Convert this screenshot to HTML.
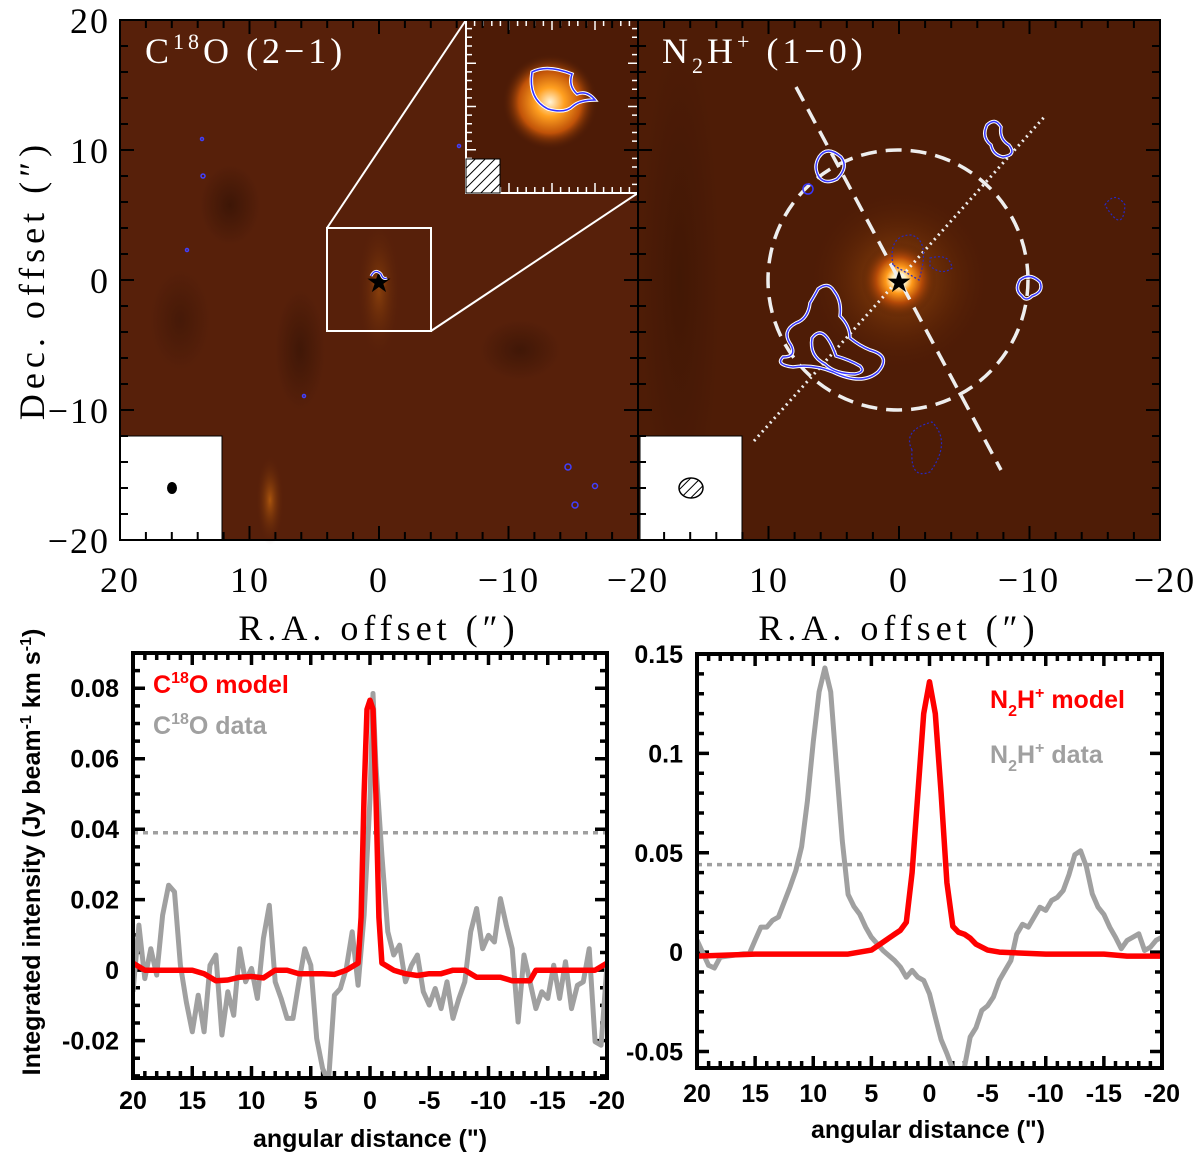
<!DOCTYPE html>
<html><head><meta charset="utf-8"><style>
html,body{margin:0;padding:0;background:#fff;}
svg{display:block;}
.ser{font-family:"Liberation Serif",serif;font-size:36px;fill:#000;letter-spacing:2px;}
.bld{font-family:"Liberation Sans",sans-serif;font-weight:bold;font-size:25px;fill:#000;}
</style></head><body>
<svg id="fig" width="1200" height="1157" viewBox="0 0 1200 1157" xmlns="http://www.w3.org/2000/svg">
<defs>
<radialGradient id="glowR" cx="0.5" cy="0.5" r="0.5">
<stop offset="0" stop-color="#ffffff"/><stop offset="0.18" stop-color="#fff0c0"/><stop offset="0.35" stop-color="#ff9a1a"/><stop offset="0.6" stop-color="#b54a08"/><stop offset="1" stop-color="#4a1a05" stop-opacity="0"/>
</radialGradient>
<radialGradient id="glowI" cx="0.5" cy="0.5" r="0.5">
<stop offset="0" stop-color="#fff4d8"/><stop offset="0.3" stop-color="#ffa020"/><stop offset="0.65" stop-color="#c05208"/><stop offset="1" stop-color="#4a1a05" stop-opacity="0"/>
</radialGradient>
<radialGradient id="glowS" cx="0.5" cy="0.5" r="0.5">
<stop offset="0" stop-color="#ff8a10"/><stop offset="1" stop-color="#5a1f05" stop-opacity="0"/>
</radialGradient>
<radialGradient id="dark" cx="0.5" cy="0.5" r="0.5">
<stop offset="0" stop-color="#1e0a02"/><stop offset="1" stop-color="#1e0a02" stop-opacity="0"/>
</radialGradient>
<pattern id="hatch" width="7" height="7" patternUnits="userSpaceOnUse" patternTransform="rotate(45)"><rect width="7" height="7" fill="#fff"/><line x1="0" y1="0" x2="0" y2="7" stroke="#000" stroke-width="2"/></pattern>
<clipPath id="clipL"><rect x="133" y="653" width="474" height="425"/></clipPath>
<clipPath id="clipR"><rect x="697" y="654" width="465" height="414"/></clipPath>
</defs>

<!-- TOP LEFT MAP -->
<g>
<rect x="120" y="20" width="518" height="520" fill="#57200a"/>
<ellipse cx="230" cy="205" rx="30" ry="40" fill="url(#dark)" opacity="0.45"/>
<ellipse cx="300" cy="350" rx="25" ry="60" fill="url(#dark)" opacity="0.4"/>
<ellipse cx="520" cy="350" rx="40" ry="30" fill="url(#dark)" opacity="0.4"/>
<ellipse cx="180" cy="320" rx="30" ry="50" fill="url(#dark)" opacity="0.3"/>
<ellipse cx="270" cy="500" rx="14" ry="45" fill="url(#glowS)" opacity="0.5"/>
<ellipse cx="379" cy="290" rx="22" ry="70" fill="url(#glowS)" opacity="0.3"/>
<circle cx="379" cy="282" r="10" fill="url(#glowS)"/>
<text x="145" y="63" class="ser" style="fill:#fff;letter-spacing:4px">C<tspan dy="-14" font-size="22">18</tspan><tspan dy="14">O (2−1)</tspan></text>
<text x="379" y="292" font-size="30" text-anchor="middle" fill="#000">★</text>
<path d="M371,276 q4,-8 10,-2 q2,6 6,4" stroke="#fff" stroke-width="3" fill="none"/>
<path d="M371,276 q4,-8 10,-2 q2,6 6,4" stroke="#3030ff" stroke-width="1.2" fill="none"/>
<g fill="none" stroke="#4040ff" stroke-width="1.5">
<circle cx="203" cy="176" r="2"/><circle cx="202" cy="139" r="1.5"/><circle cx="187" cy="250" r="1.5"/><circle cx="304" cy="396" r="1.5"/><circle cx="568" cy="467" r="3"/><circle cx="595" cy="486" r="2.5"/><circle cx="575" cy="505" r="3"/><circle cx="459" cy="146" r="1.5"/>
</g>
<rect x="327" y="228" width="104" height="103" fill="none" stroke="#fff" stroke-width="2"/>
<line x1="327" y1="228" x2="466" y2="20" stroke="#fff" stroke-width="2"/>
<line x1="431" y1="331" x2="638" y2="193" stroke="#fff" stroke-width="2"/>
<g>
<rect x="466" y="20" width="172" height="173" fill="#4d1b06" stroke="#fff" stroke-width="2"/>
<circle cx="550" cy="102" r="48" fill="url(#glowI)"/>
<path d="M532,72 q15,-8 40,2 q-4,12 5,20 q10,-4 18,6 q-15,0 -22,6 q-8,8 -25,3 q-20,-10 -16,-37z" fill="none" stroke="#fff" stroke-width="3.5"/>
<path d="M532,72 q15,-8 40,2 q-4,12 5,20 q10,-4 18,6 q-15,0 -22,6 q-8,8 -25,3 q-20,-10 -16,-37z" fill="none" stroke="#3030ff" stroke-width="1.5"/>
<g id="insetTicks"></g>
<rect x="466" y="159" width="34" height="34" fill="url(#hatch)" stroke="#000" stroke-width="1"/>
</g>
<rect x="120" y="436" width="102" height="104" fill="#fff" stroke="#000" stroke-width="1"/>
<ellipse cx="172" cy="488" rx="5" ry="6" fill="#000"/>
<rect x="120" y="20" width="518" height="520" fill="none" stroke="#000" stroke-width="2"/>
</g>

<!-- TOP RIGHT MAP -->
<g>
<rect x="638" y="20" width="522" height="520" fill="#4e1c06"/>
<ellipse cx="680" cy="280" rx="40" ry="250" fill="url(#dark)" opacity="0.25"/>
<circle cx="899" cy="280" r="90" fill="url(#glowS)" opacity="0.45"/>
<circle cx="899" cy="280" r="38" fill="url(#glowR)"/>
<text x="662" y="63" class="ser" style="fill:#fff;letter-spacing:4px">N<tspan dy="10" font-size="22">2</tspan><tspan dy="-10">H</tspan><tspan dy="-14" font-size="22">+</tspan><tspan dy="14"> (1−0)</tspan></text>
<circle cx="898" cy="280" r="130" fill="none" stroke="#eee" stroke-width="3.5" stroke-dasharray="16,9"/>
<line x1="796" y1="87" x2="1001" y2="470" stroke="#eee" stroke-width="3.5" stroke-dasharray="16,9"/>
<line x1="754" y1="441" x2="1046" y2="115" stroke="#eee" stroke-width="3" stroke-dasharray="2,4"/>
<g fill="none" stroke="#fff" stroke-width="3.5">
<path d="M819,157 q8,-12 22,0 q8,10 -4,22 q-12,6 -18,-2 q-6,-10 0,-20z"/>
<path d="M987,125 q8,-8 14,2 q-2,12 8,18 q8,10 -6,12 q-10,-2 -12,-12 q-10,-8 -4,-20z"/>
<path d="M1020,280 q10,-8 20,2 q4,10 -8,14 q-6,6 -10,0 q-8,-6 -2,-16z"/>
<path d="M818,289 q10,-8 16,2 q8,10 6,25 q10,10 10,22 q10,8 20,12 q22,6 8,22 q-16,14 -45,0 q-20,-8 -40,-5 q-18,-2 -10,-10 q14,0 8,-12 q-10,-14 5,-22 q12,-4 14,-20 q6,-10 8,-14z"/>
<path d="M812,338 q12,-16 24,18 q14,4 24,10 q6,6 -5,8 q-20,0 -30,-10 q-16,-8 -13,-26z"/>
</g>
<g fill="none" stroke="#3838ff" stroke-width="1.5">
<path d="M819,157 q8,-12 22,0 q8,10 -4,22 q-12,6 -18,-2 q-6,-10 0,-20z"/>
<path d="M987,125 q8,-8 14,2 q-2,12 8,18 q8,10 -6,12 q-10,-2 -12,-12 q-10,-8 -4,-20z"/>
<path d="M1020,280 q10,-8 20,2 q4,10 -8,14 q-6,6 -10,0 q-8,-6 -2,-16z"/>
<path d="M818,289 q10,-8 16,2 q8,10 6,25 q10,10 10,22 q10,8 20,12 q22,6 8,22 q-16,14 -45,0 q-20,-8 -40,-5 q-18,-2 -10,-10 q14,0 8,-12 q-10,-14 5,-22 q12,-4 14,-20 q6,-10 8,-14z"/>
<path d="M812,338 q12,-16 24,18 q14,4 24,10 q6,6 -5,8 q-20,0 -30,-10 q-16,-8 -13,-26z"/>
<circle cx="808" cy="189" r="5"/>
</g>
<g fill="none" stroke="#2828c0" stroke-width="1.2" stroke-dasharray="2,2">
<path d="M893,265 q-5,-30 18,-30 q20,5 8,45 z"/><path d="M930,258 q20,-5 22,10 q-10,8 -22,-2z"/>
<path d="M912,450 q-10,-20 20,-28 q20,20 -2,50 q-20,8 -18,-22z"/><path d="M1105,205 q10,-15 20,0 q-2,30 -20,0z"/>
</g>
<text x="899" y="292" font-size="30" text-anchor="middle" fill="#000">★</text>
<rect x="640" y="436" width="102" height="104" fill="#fff" stroke="#000" stroke-width="1"/>
<ellipse cx="691" cy="488" rx="12" ry="10" fill="url(#hatch)" stroke="#000" stroke-width="1.5"/>
<rect x="638" y="20" width="522" height="520" fill="none" stroke="#000" stroke-width="2"/>
</g>

<g id="topaxes"></g>

<g>
<text class="ser" x="110" y="33" text-anchor="end">20</text>
<text class="ser" x="110" y="163" text-anchor="end">10</text>
<text class="ser" x="110" y="293" text-anchor="end">0</text>
<text class="ser" x="110" y="423" text-anchor="end">−10</text>
<text class="ser" x="110" y="553" text-anchor="end">−20</text>
<text class="ser" x="120" y="592" text-anchor="middle">20</text>
<text class="ser" x="250" y="592" text-anchor="middle">10</text>
<text class="ser" x="379" y="592" text-anchor="middle">0</text>
<text class="ser" x="509" y="592" text-anchor="middle">−10</text>
<text class="ser" x="638" y="592" text-anchor="middle">−20</text>
<text class="ser" x="769" y="592" text-anchor="middle">10</text>
<text class="ser" x="899" y="592" text-anchor="middle">0</text>
<text class="ser" x="1029" y="592" text-anchor="middle">−10</text>
<text class="ser" x="1165" y="592" text-anchor="middle">−20</text>
<text class="ser" x="379" y="640" text-anchor="middle" style="letter-spacing:5px">R.A. offset (″)</text>
<text class="ser" x="899" y="640" text-anchor="middle" style="letter-spacing:5px">R.A. offset (″)</text>
<text class="ser" transform="translate(44,280) rotate(-90)" text-anchor="middle" style="letter-spacing:5px">Dec. offset (″)</text>
</g>

<!-- BOTTOM -->
<text class="bld" font-size="25" transform="translate(40,852) rotate(-90)" text-anchor="middle">Integrated intensity (Jy beam<tspan dy="-9" font-size="16">-1</tspan><tspan dy="9"> km s</tspan><tspan dy="-9" font-size="16">-1</tspan><tspan dy="9">)</tspan></text>
<g id="plotL"></g>
<g id="plotR"></g>
<text class="bld" font-size="26" x="370" y="1147" text-anchor="middle">angular distance (")</text>
<text class="bld" font-size="26" x="928" y="1138" text-anchor="middle">angular distance (")</text>
<text class="bld" x="153" y="693" style="fill:#ff0000">C<tspan dy="-10" font-size="16">18</tspan><tspan dy="10">O model</tspan></text>
<text class="bld" x="153" y="734" style="fill:#a0a0a0">C<tspan dy="-10" font-size="16">18</tspan><tspan dy="10">O data</tspan></text>
<text class="bld" x="990" y="708" style="fill:#ff0000">N<tspan dy="8" font-size="16">2</tspan><tspan dy="-8">H</tspan><tspan dy="-10" font-size="16">+</tspan><tspan dy="10"> model</tspan></text>
<text class="bld" x="990" y="763" style="fill:#a0a0a0">N<tspan dy="8" font-size="16">2</tspan><tspan dy="-8">H</tspan><tspan dy="-10" font-size="16">+</tspan><tspan dy="10"> data</tspan></text>
</svg>
<script>
const NS="http://www.w3.org/2000/svg";
// ---- C18O data ----
const c18oDataX=[20,19.5,19,18.5,18,17.5,17,16.5,16,15.5,15,14.5,14,13.5,13,12.5,12,11.5,11,10.5,10,9.5,9,8.5,8,7.5,7,6.5,6,5.5,5,4.5,4,3.5,3,2.5,2,1.5,1,0.5,0,-0.25,-0.5,-1,-1.5,-2,-2.5,-3,-3.5,-4,-4.5,-5,-5.5,-6,-6.5,-7,-7.5,-8,-8.5,-9,-9.5,-10,-10.5,-11,-11.5,-12,-12.5,-13,-13.5,-14,-14.5,-15,-15.5,-16,-16.5,-17,-17.5,-18,-18.5,-19,-19.5,-20];
const c18oDataY=[-0.0061,0.0128,-0.0024,0.0061,-0.0014,0.0156,0.0241,0.0222,0.0014,-0.009,-0.0175,-0.0071,-0.0175,0.0014,0.0043,-0.0184,-0.0061,-0.0128,0.0061,-0.0033,0.0005,-0.008,0.009,0.0184,-0.0033,-0.008,-0.0137,-0.0137,-0.0033,0.0061,0.0014,-0.0194,-0.0279,-0.0317,-0.0071,-0.0052,0.0005,0.0109,-0.0043,0.0156,0.0487,0.0785,0.0582,0.0326,0.0109,0.0043,0.0071,-0.0033,0.0014,0.0043,-0.0061,-0.0099,-0.0052,-0.0109,-0.0033,-0.0137,-0.008,-0.0033,0.0109,0.0175,0.0061,0.0099,0.008,0.0203,0.0128,0.0061,-0.0147,0.0043,-0.0033,-0.0109,-0.0061,-0.008,0.0014,-0.008,0.0024,-0.0109,-0.0043,-0.0033,0.0061,-0.0203,-0.0213,0.0014];
const c18oModelX=[20,19,17,15,14,13,12,11,10,9,8,7,6,5,4,3,2,1.5,1,0.75,0.5,0.25,0,-0.25,-0.5,-0.75,-1,-1.5,-2,-3,-4,-5,-6,-7,-8,-9,-10,-11,-12,-13,-13.5,-14,-15,-17,-19,-20];
const c18oModelY=[0.002,0,0,0,-0.001,-0.003,-0.0028,-0.002,-0.0018,-0.0022,0,0,-0.001,-0.001,-0.001,-0.0012,0,0.001,0.002,0.015,0.05,0.074,0.0766,0.074,0.05,0.015,0.002,0.001,0,-0.001,-0.0015,-0.001,-0.001,0,0,-0.002,-0.002,-0.002,-0.003,-0.003,-0.003,0,0,0,0,0.002];
const c18oThreshold=[0.039];
const leftXTicks=[20,15,10,5,0,-5,-10,-15,-20];
const leftYTicks=[-0.02,0,0.02,0.04,0.06,0.08];
const leftYLabels=["-0.02","0","0.02","0.04","0.06","0.08"];
// ---- N2H+ data ----
const n2hDataX=[20,19,18.5,18,17,16,15.5,15,14.5,14,13.5,13,12,11.5,11,10.5,10,9.5,9,8.5,8,7.5,7,6.5,6,5.5,5,4.5,4,3.5,3,2.5,2,1.5,1,0.5,0,-0.5,-1,-1.5,-2,-2.5,-3,-3.5,-4,-4.5,-5,-5.5,-6,-6.5,-7,-7.5,-8,-8.5,-9,-9.5,-10,-10.5,-11,-11.5,-12,-12.5,-13,-13.5,-14,-14.5,-15,-15.5,-16,-16.5,-17,-17.5,-18,-18.5,-19,-19.5,-20];
const n2hDataY=[0.006,-0.0067,-0.008,-0.0025,-0.0017,-0.0008,-0.0008,0.006,0.0126,0.0126,0.016,0.0176,0.0327,0.041,0.053,0.076,0.106,0.131,0.143,0.131,0.093,0.056,0.029,0.023,0.019,0.0126,0.0075,0.0042,0.0008,-0.0017,-0.0042,-0.0075,-0.0126,-0.0092,-0.0126,-0.0142,-0.021,-0.0327,-0.044,-0.051,-0.059,-0.066,-0.058,-0.0427,-0.038,-0.0293,-0.027,-0.0226,-0.0142,-0.0092,-0.0042,0.009,0.014,0.0126,0.0176,0.0226,0.021,0.026,0.0276,0.031,0.039,0.049,0.051,0.043,0.0293,0.0226,0.019,0.0126,0.0075,0.0017,0.0059,0.0075,0.0092,0.0008,0.0025,0.006,0.0075];
const n2hModelX=[20,15,10,7,6,5,4,3,2.5,2,1.5,1,0.5,0,-0.5,-1,-1.5,-2,-2.5,-3,-3.5,-4,-5,-6,-10,-15,-17,-20];
const n2hModelY=[-0.002,-0.001,-0.001,-0.001,0,0.001,0.005,0.009,0.011,0.015,0.04,0.08,0.12,0.136,0.12,0.08,0.035,0.013,0.01,0.009,0.007,0.004,0.001,0,-0.001,-0.001,-0.002,-0.002];
const n2hThreshold=[0.044];
const rightXTicks=[20,15,10,5,0,-5,-10,-15,-20];
const rightYTicks=[-0.05,0,0.05,0.1,0.15];
const rightYLabels=["-0.05","0","0.05","0.1","0.15"];

function mk(tag,attrs,parent){const e=document.createElementNS(NS,tag);for(const k in attrs)e.setAttribute(k,attrs[k]);parent.appendChild(e);return e;}

function plot(g,cfg){
  const {x0,x1,y0,y1,xmin,xmax,ymin,ymax}=cfg;
  const sx=v=>x0+(xmax-v)/(xmax-xmin)*(x1-x0);
  const sy=v=>y1-(v-ymin)/(ymax-ymin)*(y1-y0);
  let d="";
  for(let v=-20;v<=20;v++){const X=sx(v);const L=(v%5===0)?12:7;d+=`M${X},${y1}v${-L}M${X},${y0}v${L}`;}
  const yst=cfg.ystep;
  for(let k=Math.ceil(ymin/yst);k*yst<=ymax+1e-9;k++){const v=k*yst;const Y=sy(v);const maj=Math.abs(Math.round(v/cfg.ymajor)*cfg.ymajor-v)<1e-9;const L=maj?12:7;d+=`M${x0},${Y}h${L}M${x1},${Y}h${-L}`;}
  const ticks=mk('path',{d:d,stroke:'#000','stroke-width':3.5,fill:'none'},g);
  
  
  const th=mk('line',{x1:x0,x2:x1,y1:sy(cfg.thr[0]),y2:sy(cfg.thr[0]),stroke:'#a0a0a0','stroke-width':3.5,'stroke-dasharray':'5,5'},g);
  
  
  const cg=mk('g',{'clip-path':cfg.clip},g);
  const pd=(xs,ys)=>xs.map((v,i)=>(i?'L':'M')+sx(v).toFixed(1)+','+sy(ys[i]).toFixed(1)).join('');
  const dl=mk('path',{d:pd(cfg.dx,cfg.dy),stroke:'#a0a0a0','stroke-width':5,fill:'none','stroke-linejoin':'round'},cg);
  
  
  const ml=mk('path',{d:pd(cfg.mx,cfg.my),stroke:'#ff0000','stroke-width':5.5,fill:'none','stroke-linejoin':'round'},cg);
  
  
  const fr=mk('rect',{x:x0,y:y0,width:x1-x0,height:y1-y0,fill:'none',stroke:'#000','stroke-width':4},g);
  
  
  cfg.xt.forEach(v=>{const t=mk('text',{x:sx(v),y:cfg.xly,'text-anchor':'middle',class:'bld'},g);t.textContent=String(v);
    
    });
  cfg.yt.forEach((v,i)=>{const t=mk('text',{x:x0-14,y:sy(v)+9,'text-anchor':'end',class:'bld'},g);t.textContent=cfg.yl[i];
    
    });
}
plot(document.getElementById('plotL'),{x0:133,x1:607,y0:653,y1:1078,xmin:-20,xmax:20,ymin:-0.0306,ymax:0.09,ystep:0.005,ymajor:0.02,thr:c18oThreshold,dx:c18oDataX,dy:c18oDataY,mx:c18oModelX,my:c18oModelY,xt:leftXTicks,yt:leftYTicks,yl:leftYLabels,xly:1109,clip:'url(#clipL)'});
plot(document.getElementById('plotR'),{x0:697,x1:1162,y0:654,y1:1068,xmin:-20,xmax:20,ymin:-0.0583,ymax:0.15,ystep:0.01,ymajor:0.05,thr:n2hThreshold,dx:n2hDataX,dy:n2hDataY,mx:n2hModelX,my:n2hModelY,xt:rightXTicks,yt:rightYTicks,yl:rightYLabels,xly:1102,clip:'url(#clipR)'});

(function(){
  const g=document.getElementById('topaxes');let d="";
  [[120,638],[638,1160]].forEach(([a,b])=>{
    const s=(b-a)/40;
    for(let v=-20;v<=20;v+=2){const X=a+(20-v)*s;const L=v%10===0?14:8;d+=`M${X},540v${-L}M${X},20v${L}`;}
  });
  for(let v=-20;v<=20;v+=2){const Y=20+(20-v)*13;const L=v%10===0?14:8;d+=`M120,${Y}h${L}M1160,${Y}h${-L}M638,${Y}h${-L}M638,${Y}h${L}`;}
  const p=mk('path',{d:d,stroke:'#000','stroke-width':2,fill:'none'},g);
  
  
  const it=document.getElementById('insetTicks');let e="";
  for(let i=1;i<20;i++){const X=466+i*8.6;const L=i%5===0?10:6;e+=`M${X},20v${L}M${X},193v${-L}`;const Y=20+i*8.65;e+=`M466,${Y}h${L}M638,${Y}h${-L}`;}
  const q=mk('path',{d:e,stroke:'#fff','stroke-width':1.5,fill:'none'},it);
  
  
})();
</script>
</body></html>
